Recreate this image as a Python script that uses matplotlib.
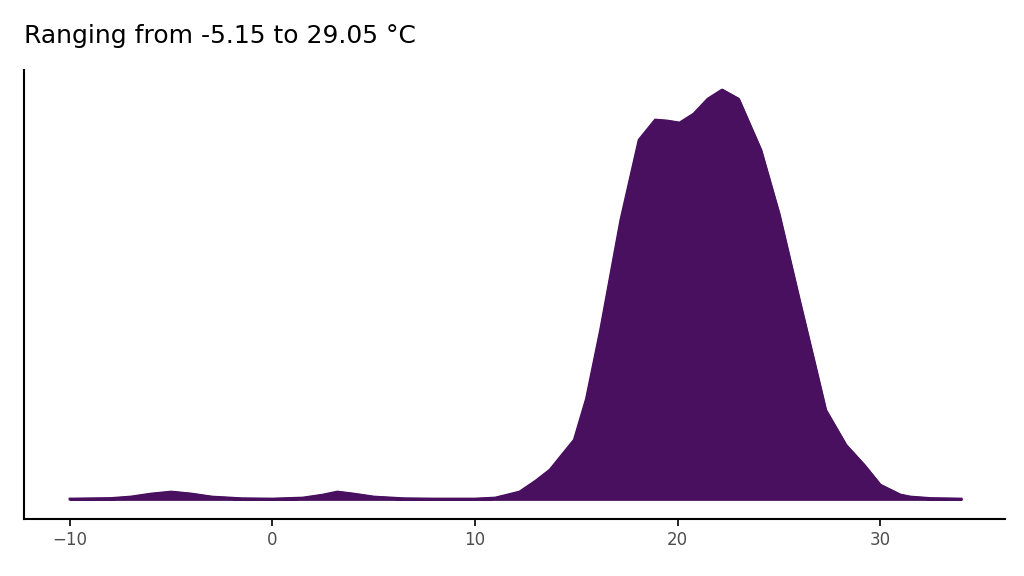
import matplotlib
matplotlib.use("Agg")
import matplotlib.pyplot as plt

# density curve (relative height)
temp = [-10, -8, -7, -6, -5, -4, -3, -1.5, 0, 1.5, 2.5, 3.2, 4, 5, 6.5, 8, 10, 11, 12.2, 13, 13.7,
        14.9, 15.5, 16.2, 17.2, 18.1, 18.9, 19.5, 20.1, 20.8, 21.5, 22.2, 23, 24.1, 25, 26.0,
        26.7, 27.3, 28.3, 29.2, 30, 31, 31.5, 32.5, 34]
density = [0, 0.5, 2, 5, 7, 5, 2, 0.3, 0, 1, 4, 7, 5, 2, 0.3, 0, 0, 1, 7, 18, 29,
           59, 100, 169, 279, 359, 379, 378, 376, 385, 400, 409, 400, 349, 285, 199,
           140, 89, 54, 34, 14, 4, 2, 0.5, 0]

fig = plt.figure(figsize=(10.24, 5.76), dpi=100)
ax = fig.add_axes([24 / 1024, 57 / 576, 981 / 1024, 449 / 576])
ax.fill_between(temp, density, 0, color="#48105E", linewidth=2, edgecolor="#48105E")
ax.plot(temp, density, color="#48105E", linewidth=2)
ax.set_xlim(-12.27, 36.17)
ax.set_ylim(-20, 429)
ax.set_yticks([])
ax.set_xticks([-10, 0, 10, 20, 30])
ax.tick_params(axis="x", labelsize=12, labelcolor="#4d4d4d", length=5, width=1.2)
for s in ["top", "right"]:
    ax.spines[s].set_visible(False)
for s in ["left", "bottom"]:
    ax.spines[s].set_linewidth(1.5)
fig.text(24 / 1024, 1 - 36 / 576, "Ranging from -5.15 to 29.05 °C", fontsize=18, va="center")
fig.savefig("out.png")
